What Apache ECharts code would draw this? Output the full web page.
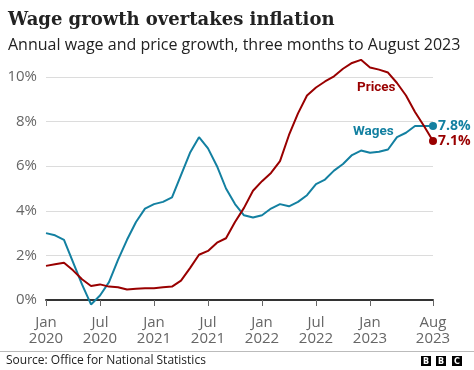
<!DOCTYPE html>
<html>
<head>
<meta charset="utf-8">
<script src="https://cdn.jsdelivr.net/npm/echarts@6/dist/echarts.min.js"></script>
<style>
html,body{margin:0;padding:0;background:#fff;}
#chart{width:474px;height:370px;}
</style>
</head>
<body>
<div id="chart"></div>
<script>
// Months Jan 2020 .. Aug 2023
const monthNames = ['Jan','Feb','Mar','Apr','May','Jun','Jul','Aug','Sep','Oct','Nov','Dec'];
const categories = [];
for (let y = 2020; y <= 2023; y++) {
  for (let m = 0; m < 12; m++) {
    if (y === 2023 && m > 7) break;
    categories.push(monthNames[m] + ' ' + y);
  }
}
// Annual wage growth (regular pay), three-month average, %
const wages = [
  3.0, 2.9, 2.7, 1.7, 0.7, -0.2, 0.2, 0.8, 1.8, 2.7, 3.5, 4.1,
  4.3, 4.4, 4.6, 5.6, 6.6, 7.3, 6.8, 6.0, 5.0, 4.3, 3.8, 3.7,
  3.8, 4.1, 4.3, 4.2, 4.4, 4.7, 5.2, 5.4, 5.8, 6.1, 6.5, 6.7,
  6.6, 6.65, 6.75, 7.3, 7.5, 7.8, 7.8, 7.8
];
// Annual price growth, three-month average, %
const prices = [
  1.53, 1.6, 1.67, 1.33, 0.93, 0.63, 0.7, 0.6, 0.57, 0.47, 0.5, 0.53,
  0.53, 0.57, 0.6, 0.87, 1.43, 2.03, 2.2, 2.57, 2.77, 3.5, 4.13, 4.9,
  5.33, 5.7, 6.23, 7.4, 8.37, 9.17, 9.53, 9.8, 10.03, 10.37, 10.63, 10.77,
  10.43, 10.33, 10.2, 9.73, 9.17, 8.43, 7.8, 7.13
];
const tickIndices = [0, 6, 12, 18, 24, 30, 36, 43];
const yTicks = [0, 2, 4, 6, 8, 10];

const TEAL = '#1380A1';
const RED = '#990000';
const FONT = '"Open Sans", "Noto Sans", sans-serif';
const last = categories.length - 1;

const chart = echarts.init(document.getElementById('chart'), null, {renderer: 'canvas'});

function lineSeries(name, data, color) {
  return {
    name: name,
    type: 'line',
    data: data,
    clip: false,
    smooth: false,
    showSymbol: true,
    showAllSymbol: true,
    symbol: 'circle',
    symbolSize: function (v, p) { return p.dataIndex === last ? 8 : 0; },
    itemStyle: {color: color},
    lineStyle: {color: color, width: 2},
    emphasis: {disabled: true},
    endLabel: {
      show: true,
      distance: 5,
      color: color,
      fontFamily: FONT,
      fontWeight: 'bold',
      fontSize: 14,
      formatter: function (p) { return Number(p.value).toFixed(1) + '%'; }
    }
  };
}

chart.setOption({
  animation: false,
  backgroundColor: '#fff',
  grid: {left: 46, right: 41, top: 77, bottom: 70, containLabel: false},
  xAxis: {
    type: 'category',
    data: categories,
    boundaryGap: false,
    axisLine: {show: true, lineStyle: {color: '#333', width: 2}},
    axisTick: {
      show: true,
      length: 6,
      inside: false,
      interval: function (i) { return tickIndices.indexOf(i) >= 0; },
      lineStyle: {color: '#666', width: 1}
    },
    axisLabel: {
      interval: function (i) { return tickIndices.indexOf(i) >= 0; },
      formatter: function (v) { return v.replace(' ', '\n'); },
      color: '#666',
      fontFamily: FONT,
      fontSize: 15,
      lineHeight: 16,
      margin: 15
    },
    splitLine: {show: false}
  },
  yAxis: {
    type: 'value',
    min: yTicks[0],
    max: yTicks[yTicks.length - 1],
    interval: 2,
    axisLine: {show: false},
    axisTick: {show: false},
    axisLabel: {
      formatter: '{value}%',
      color: '#666',
      fontFamily: FONT,
      fontSize: 15,
      margin: 9
    },
    splitLine: {show: true, lineStyle: {color: '#dcdcdc', width: 1}}
  },
  series: [
    lineSeries('Wages', wages, TEAL),
    lineSeries('Prices', prices, RED)
  ],
  graphic: [
    {type: 'text', left: 8, top: 11, style: {text: 'Wage growth overtakes inflation', font: 'bold 18px "DejaVu Serif", serif', fill: '#222'}},
    {type: 'text', left: 8, top: 37, style: {text: 'Annual wage and price growth, three months to August 2023', font: '16px ' + FONT, fill: '#222'}},
    {type: 'text', left: 357, top: 81, style: {text: 'Prices', font: 'bold 13.5px Roboto, sans-serif', fill: RED}},
    {type: 'text', left: 353, top: 125, style: {text: 'Wages', font: 'bold 13.5px Roboto, sans-serif', fill: TEAL}},
    {type: 'line', shape: {x1: 0, y1: 351.5, x2: 474, y2: 351.5}, style: {stroke: '#bbb', lineWidth: 1}},
    {type: 'text', left: 6, top: 355, style: {text: 'Source: Office for National Statistics', font: '12px ' + FONT, fill: '#222'}},
    {type: 'rect', shape: {x: 421, y: 356, width: 10, height: 10}, style: {fill: '#000'}},
    {type: 'rect', shape: {x: 436, y: 356, width: 10, height: 10}, style: {fill: '#000'}},
    {type: 'rect', shape: {x: 452, y: 356, width: 10, height: 10}, style: {fill: '#000'}},
    {type: 'text', x: 426, y: 361.5, style: {text: 'B', font: 'bold 8px "DejaVu Sans", sans-serif', fill: '#fff', align: 'center', verticalAlign: 'middle'}},
    {type: 'text', x: 441, y: 361.5, style: {text: 'B', font: 'bold 8px "DejaVu Sans", sans-serif', fill: '#fff', align: 'center', verticalAlign: 'middle'}},
    {type: 'text', x: 457, y: 361.5, style: {text: 'C', font: 'bold 8px "DejaVu Sans", sans-serif', fill: '#fff', align: 'center', verticalAlign: 'middle'}}
  ]
});
</script>
</body>
</html>
